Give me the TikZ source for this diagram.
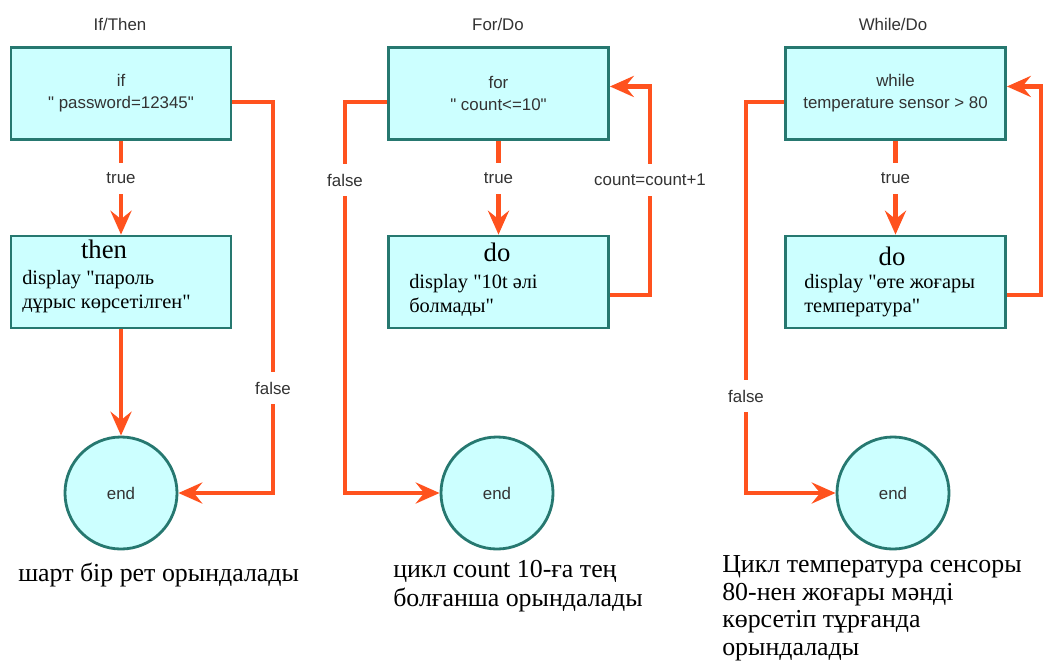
\documentclass[tikz,border=0pt]{standalone}
\usepackage{fontspec}
\setmainfont{Liberation Serif}
\setsansfont{Liberation Sans}
\usetikzlibrary{arrows.meta}
\definecolor{boxfill}{RGB}{204,255,255}
\definecolor{boxline}{RGB}{38,120,112}
\definecolor{flowc}{RGB}{255,82,30}
\definecolor{txt}{RGB}{51,51,51}
\newcommand{\qq}{\textquotedbl}

\begin{document}
\begin{tikzpicture}[x=0.025cm,y=-0.025cm,
  box/.style={draw=boxline, fill=boxfill, line width=2pt, minimum width=5.5cm, minimum height=2.3cm, inner sep=0pt},
  sans/.style={font=\sffamily\fontsize{12}{15.5}\selectfont, text=txt, align=center},
  endnode/.style={circle, draw=boxline, fill=boxfill, line width=2pt, minimum size=2.8cm, sans},
  arr/.style={draw=flowc, line width=3pt, -{Stealth[length=17pt,width=15pt,inset=6pt]}},
  lbl/.style={sans, fill=white, inner sep=7pt},
  head/.style={font=\fontsize{19}{22}\selectfont},
  body/.style={font=\fontsize{14.5}{17}\selectfont, align=left, anchor=west, inner sep=0pt},
  caption/.style={font=\fontsize{18.4}{20.8}\selectfont, align=left, anchor=north west, inner sep=0pt}]
\useasboundingbox (0,0) rectangle (1044,665);

\node[sans] (t1) at (120,24) {If/Then};
\node[sans] (t2) at (498,24) {For/Do};
\node[sans] (t3) at (893,24) {While/Do};

\node[box, sans] (if) at (121,93.5) {if\\\qq\ password=12345\qq};
\node[box] (then) at (121,282) {};
\node[head] (thenhd) at (104,249) {then};
\node[body] (thenbd) at (22,292) {display \qq пароль\\дұрыс көрсетілген\qq};
\node[endnode] (end1) at (121,493) {end};

\node[box, sans] (for) at (498.5,93.5) {for\\\qq\ count<=10\qq};
\node[box] (do1) at (498.5,282) {};
\node[head] (do1hd) at (497,252) {do};
\node[body] (do1bd) at (409,295) {display \qq 10t әлі\\болмады\qq};
\node[endnode] (end2) at (497,493) {end};

\node[box, sans] (while) at (895.5,93.5) {while\\temperature sensor > 80};
\node[box] (do2) at (895.5,282) {};
\node[head] (do2hd) at (892,256) {do};
\node[body] (do2bd) at (804,296) {display \qq өте жоғары\\температура\qq};
\node[endnode] (end3) at (893,493) {end};

\draw[arr] (if) -- node[lbl, pos=0.4] {true} (then);
\draw[arr] (then) -- (end1);
\draw[arr] ([yshift=-6pt]if.east) -| (273,388) node[lbl] {false} |- (end1.east);

\draw[arr] (for) -- node[lbl, pos=0.4] {true} (do1);
\draw[arr] ([yshift=-6pt]for.west) -| (345,180) node[lbl] {false} |- (end2.west);
\draw[arr] ([yshift=-9pt]do1.east) -| (650,180) node[lbl] {count=count+1} |- ([yshift=5pt]for.east);

\draw[arr] (while) -- node[lbl, pos=0.4] {true} (do2);
\draw[arr] ([yshift=-6pt]while.west) -| (746,396) node[lbl] {false} |- (end3.west);
\draw[arr] ([yshift=-9pt]do2.east) -| (1041,180) |- ([yshift=5pt]while.east);

\node[caption] (c1) at (18,563) {шарт бір рет орындалады};
\node[caption] (c2) at (393,560) {цикл count 10-ға тең\\болғанша орындалады};
\node[caption, font=\fontsize{18.4}{19.8}\selectfont] (c3) at (722,555) {Цикл температура сенсоры\\80-нен жоғары мәнді\\көрсетіп тұрғанда\\орындалады};
\end{tikzpicture}
\end{document}
